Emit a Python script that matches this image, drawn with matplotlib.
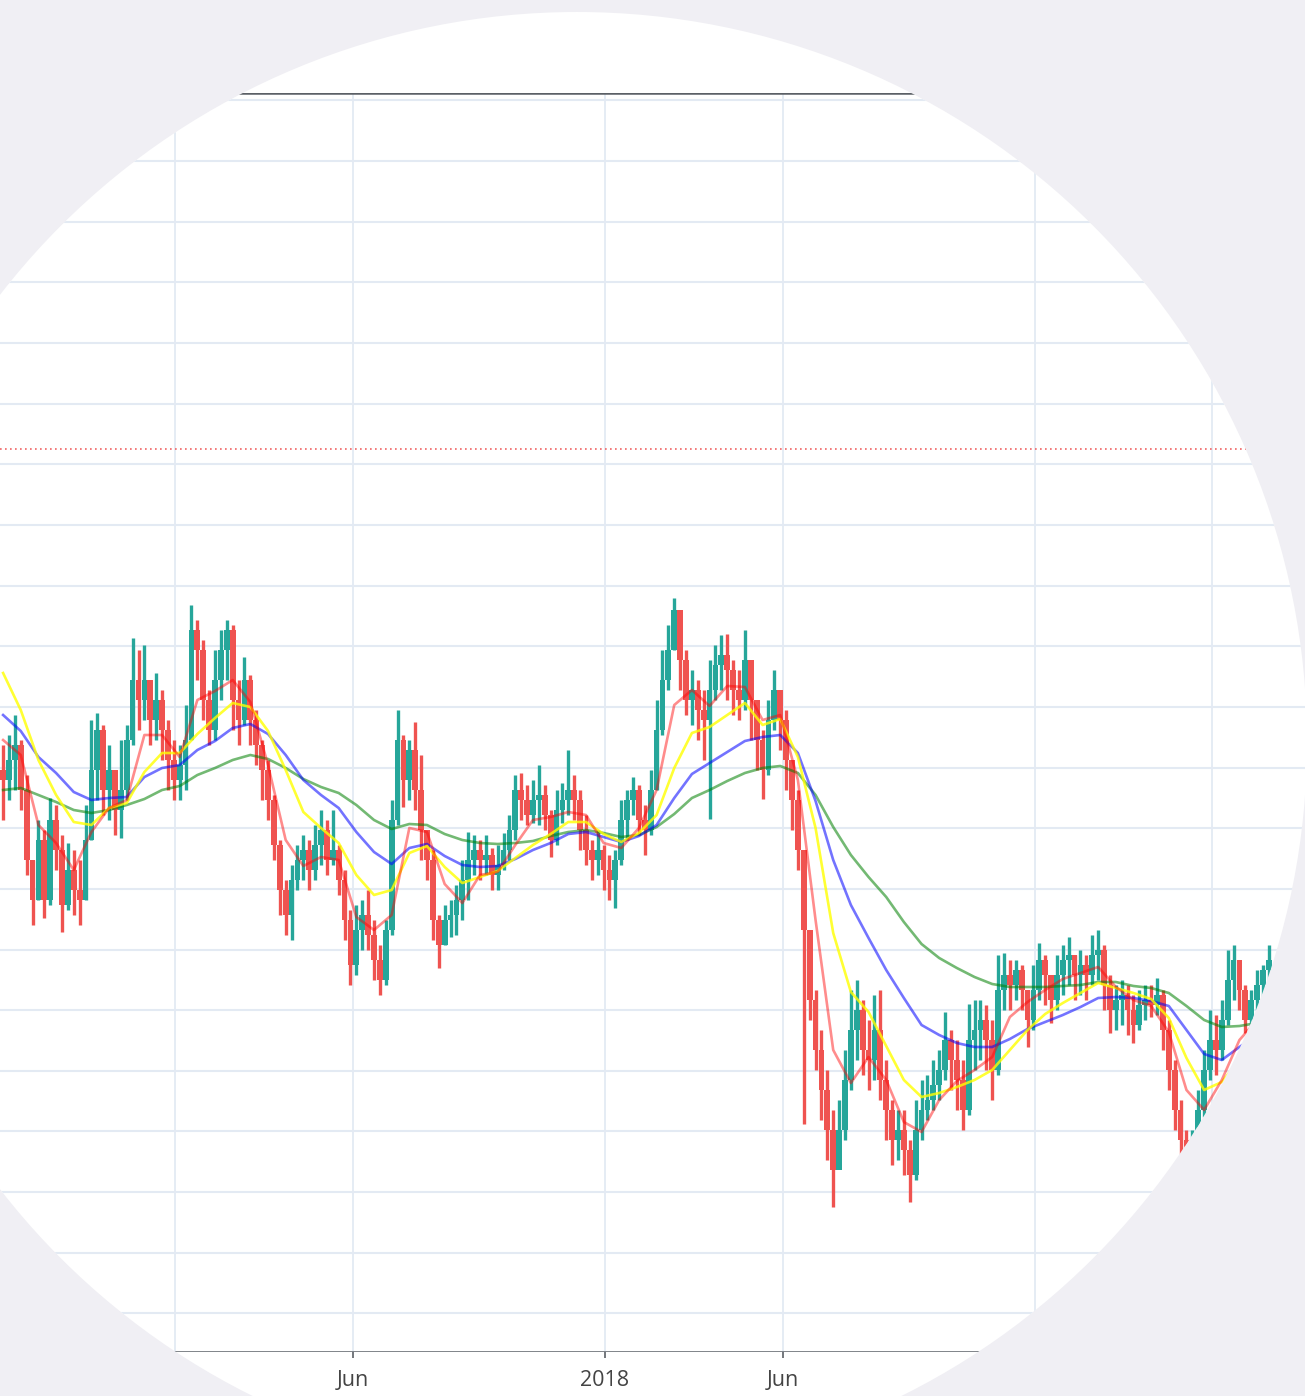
import numpy as np
import pandas as pd
import matplotlib
matplotlib.use('Agg')
import matplotlib.pyplot as plt
from matplotlib.patches import Circle

plt.rcParams['font.family'] = ['Open Sans', 'DejaVu Sans']

# --- DATA (5-day candles, price units are arbitrary: the axis has no labels) ---
first_open = 6.30

close = [6.20, 6.40, 6.55, 6.10, 5.40, 5.00, 5.60, 5.00, 5.80, 5.50,
         4.95, 5.30, 5.10, 5.00, 5.60, 6.30, 6.70, 6.10, 6.30, 5.90,
         6.10, 6.60, 7.20, 7.00, 7.20, 6.80, 7.00, 6.70, 6.40, 6.20,
         6.35, 6.60, 7.70, 7.50, 7.00, 6.70, 7.20, 7.50, 7.70, 7.00,
         6.80, 7.20, 6.80, 6.55, 6.30, 6.00, 5.55, 5.10, 4.85, 5.20,
         5.40, 5.50, 5.30, 5.55, 5.70, 5.40, 5.50, 5.20, 4.80, 4.35,
         4.70, 4.85, 4.65, 4.40, 4.20, 4.70, 5.80, 6.60, 6.20, 6.50,
         6.10, 5.70, 5.40, 4.80, 4.55, 4.80, 4.85, 5.00, 5.20, 5.40,
         5.50, 5.40, 5.45, 5.25, 5.35, 5.50, 5.70, 6.10, 6.00, 5.85,
         6.00, 6.05, 5.85, 5.60, 5.90, 6.00, 6.10, 6.00, 5.70, 5.50,
         5.40, 5.50, 5.30, 5.20, 5.40, 5.80, 6.00, 6.10, 5.80, 5.70,
         6.10, 6.70, 7.20, 7.50, 7.90, 7.40, 7.00, 7.10, 6.90, 6.80,
         7.10, 7.35, 7.45, 7.30, 7.10, 7.00, 7.40, 7.00, 6.60, 6.30,
         6.80, 7.10, 6.80, 6.40, 6.00, 5.50, 4.70, 4.00, 3.50, 3.10,
         2.70, 2.30, 2.70, 3.20, 3.70, 3.90, 3.50, 3.40, 3.70, 3.20,
         2.90, 2.60, 2.70, 2.50, 2.25, 2.70, 2.90, 3.00, 3.15, 3.30,
         3.60, 3.40, 3.20, 2.90, 3.60, 3.70, 3.80, 3.60, 3.30, 4.10,
         4.25, 4.15, 4.30, 4.10, 3.80, 4.10, 4.40, 4.25, 4.00, 4.25,
         4.40, 4.45, 4.25, 4.35, 4.25, 4.45, 4.50, 4.15, 3.90, 4.00,
         4.05, 3.90, 3.75, 3.95, 4.00, 3.95, 4.05, 3.70, 3.30, 2.90,
         2.60, 2.30, 2.50, 2.90, 3.30, 3.60, 3.50, 3.80, 4.20, 4.40,
         4.10, 3.80, 4.00, 4.15, 4.30, 4.40]

high = [6.55, 6.65, 6.85, 6.60, 6.25, 5.40, 5.80, 5.70, 6.02, 5.95,
        5.65, 5.57, 5.50, 5.40, 5.95, 6.80, 6.87, 6.75, 6.55, 6.30,
        6.60, 6.75, 7.62, 7.50, 7.55, 7.20, 7.27, 7.10, 6.80, 6.60,
        6.55, 6.95, 7.95, 7.80, 7.60, 7.10, 7.50, 7.70, 7.80, 7.75,
        7.20, 7.43, 7.25, 6.90, 6.60, 6.40, 6.05, 5.60, 5.20, 5.35,
        5.55, 5.65, 5.60, 5.75, 5.90, 5.80, 5.90, 5.55, 5.30, 4.90,
        4.95, 5.00, 5.10, 4.80, 4.55, 4.80, 6.00, 6.90, 6.65, 6.60,
        6.78, 6.45, 5.70, 5.50, 4.85, 4.95, 5.00, 5.15, 5.40, 5.68,
        5.65, 5.60, 5.65, 5.52, 5.55, 5.67, 5.85, 6.25, 6.27, 6.15,
        6.20, 6.35, 6.15, 5.90, 6.10, 6.17, 6.50, 6.25, 6.10, 5.85,
        5.60, 5.70, 5.55, 5.45, 5.50, 6.00, 6.10, 6.23, 6.15, 5.95,
        6.30, 7.00, 7.50, 7.75, 8.02, 7.90, 7.50, 7.30, 7.20, 7.10,
        7.40, 7.55, 7.65, 7.66, 7.40, 7.30, 7.70, 7.40, 7.00, 6.70,
        7.00, 7.30, 7.10, 6.90, 6.40, 6.10, 5.50, 4.70, 4.10, 3.70,
        3.30, 2.90, 3.00, 3.50, 4.10, 4.20, 4.00, 3.80, 4.05, 4.10,
        3.40, 3.00, 2.90, 2.90, 2.60, 3.00, 3.20, 3.25, 3.40, 3.50,
        3.88, 3.70, 3.60, 3.40, 3.96, 4.00, 4.00, 3.95, 3.80, 4.45,
        4.47, 4.40, 4.40, 4.35, 4.10, 4.35, 4.57, 4.45, 4.25, 4.45,
        4.55, 4.63, 4.45, 4.50, 4.45, 4.65, 4.70, 4.55, 4.25, 4.15,
        4.20, 4.15, 4.05, 4.10, 4.15, 4.15, 4.22, 4.10, 3.80, 3.40,
        3.00, 2.70, 2.70, 3.10, 3.50, 3.90, 3.85, 4.00, 4.50, 4.55,
        4.40, 4.15, 4.10, 4.30, 4.35, 4.55]

low = [5.80, 6.00, 6.10, 5.90, 5.25, 4.75, 5.00, 4.82, 4.95, 5.30,
       4.68, 4.90, 4.85, 4.75, 5.00, 5.60, 6.00, 5.85, 5.80, 5.65,
       5.62, 6.00, 6.55, 6.70, 6.80, 6.55, 6.60, 6.40, 6.10, 6.00,
       6.00, 6.10, 6.60, 7.20, 6.80, 6.55, 6.60, 7.00, 7.20, 6.70,
       6.55, 6.75, 6.55, 6.35, 6.00, 5.80, 5.40, 4.85, 4.65, 4.60,
       5.10, 5.20, 5.10, 5.20, 5.35, 5.25, 5.35, 5.05, 4.60, 4.15,
       4.25, 4.50, 4.50, 4.20, 4.05, 4.15, 4.65, 5.75, 5.93, 6.00,
       5.90, 5.40, 5.20, 4.60, 4.32, 4.55, 4.63, 4.65, 4.80, 5.00,
       5.25, 5.20, 5.25, 5.10, 5.10, 5.30, 5.40, 5.60, 5.80, 5.75,
       5.77, 5.75, 5.70, 5.43, 5.55, 5.77, 5.85, 5.80, 5.50, 5.35,
       5.20, 5.25, 5.10, 5.00, 4.92, 5.35, 5.60, 5.85, 5.65, 5.45,
       5.65, 6.10, 6.65, 7.10, 7.50, 7.10, 6.85, 6.75, 6.60, 6.40,
       5.81, 7.00, 7.10, 7.00, 6.85, 6.80, 6.90, 6.60, 6.30, 6.01,
       6.25, 6.70, 6.50, 6.10, 5.70, 5.30, 2.76, 3.80, 3.30, 2.80,
       2.40, 1.93, 2.40, 2.60, 3.10, 3.40, 3.25, 3.10, 3.20, 3.00,
       2.60, 2.35, 2.40, 2.25, 1.98, 2.20, 2.60, 2.80, 2.90, 3.00,
       3.20, 3.10, 2.90, 2.70, 2.85, 3.30, 3.40, 3.30, 3.00, 3.25,
       3.90, 3.90, 4.00, 3.90, 3.53, 3.70, 4.00, 3.95, 3.77, 3.90,
       4.05, 4.15, 4.00, 4.05, 4.00, 4.15, 4.20, 3.90, 3.67, 3.70,
       3.75, 3.65, 3.57, 3.70, 3.80, 3.83, 3.85, 3.50, 3.10, 2.70,
       2.40, 2.10, 2.15, 2.40, 2.83, 3.20, 3.25, 3.40, 3.75, 4.00,
       3.90, 3.67, 3.70, 3.90, 4.00, 4.10]

# moving averages, read every third candle
ma_red = [6.60, 6.45, 5.75, 5.57, 5.30, 5.68, 5.92, 6.00, 6.65, 6.65,
          6.43, 7.00, 7.09, 7.20, 6.98, 6.35, 5.60, 5.34, 5.43, 5.40,
          4.83, 4.70, 4.85, 5.72, 5.68, 5.16, 4.97, 5.25, 5.28, 5.55,
          5.80, 5.83, 5.88, 5.85, 5.57, 5.52, 5.72, 6.10, 6.95, 7.10,
          6.94, 7.14, 7.13, 6.80, 6.85, 6.20, 4.80, 3.50, 3.17, 3.43,
          3.20, 2.78, 2.68, 3.00, 3.19, 3.30, 3.43, 3.83, 3.98, 4.10,
          4.21, 4.27, 4.33, 4.13, 4.00, 3.94, 3.68, 3.10, 2.90, 3.20,
          3.60, 3.80]
ma_yellow = [7.27, 6.90, 6.40, 6.05, 5.78, 5.75, 5.92, 5.97, 6.28, 6.47,
             6.47, 6.66, 6.82, 6.97, 6.93, 6.69, 6.30, 5.88, 5.72, 5.57,
             5.25, 5.05, 5.10, 5.47, 5.54, 5.33, 5.17, 5.23, 5.29, 5.42,
             5.55, 5.66, 5.78, 5.78, 5.66, 5.58, 5.67, 5.85, 6.32, 6.67,
             6.73, 6.85, 6.97, 6.75, 6.81, 6.43, 5.72, 4.67, 4.08, 3.88,
             3.54, 3.20, 3.03, 3.07, 3.13, 3.20, 3.30, 3.50, 3.70, 3.86,
             3.97, 4.07, 4.17, 4.12, 4.07, 4.01, 3.82, 3.42, 3.10, 3.18,
             3.40, 3.60]
ma_blue = [6.85, 6.69, 6.43, 6.27, 6.08, 6.00, 6.02, 6.03, 6.23, 6.32,
           6.35, 6.50, 6.59, 6.72, 6.76, 6.66, 6.45, 6.20, 6.05, 5.92,
           5.68, 5.48, 5.36, 5.52, 5.56, 5.44, 5.35, 5.33, 5.34, 5.41,
           5.50, 5.57, 5.66, 5.68, 5.63, 5.58, 5.64, 5.75, 6.02, 6.26,
           6.37, 6.48, 6.59, 6.63, 6.65, 6.47, 5.99, 5.40, 4.95, 4.62,
           4.30, 4.02, 3.75, 3.65, 3.57, 3.53, 3.53, 3.61, 3.71, 3.78,
           3.85, 3.93, 4.02, 4.03, 4.02, 3.99, 3.94, 3.70, 3.46, 3.40,
           3.53, 3.65]
ma_green = [6.10, 6.12, 6.05, 5.98, 5.90, 5.87, 5.90, 5.95, 6.01, 6.10,
            6.14, 6.25, 6.32, 6.40, 6.45, 6.41, 6.32, 6.21, 6.13, 6.07,
            5.95, 5.80, 5.71, 5.76, 5.75, 5.66, 5.60, 5.57, 5.56, 5.57,
            5.59, 5.64, 5.68, 5.70, 5.67, 5.63, 5.65, 5.73, 5.86, 6.02,
            6.10, 6.19, 6.27, 6.32, 6.34, 6.27, 6.05, 5.73, 5.45, 5.23,
            5.03, 4.78, 4.56, 4.42, 4.32, 4.23, 4.16, 4.13, 4.13, 4.13,
            4.14, 4.15, 4.18, 4.18, 4.14, 4.12, 4.07, 3.94, 3.80, 3.73,
            3.74, 3.77]

level = 9.51  # dotted reference line

candle_dates = pd.date_range('2016-08-08', periods=len(close), freq='5D')
ma_dates = candle_dates[::3]

tick_dates = pd.to_datetime(['2017-06-01', '2018-01-01', '2018-06-01'])
tick_labels = ['Jun', '2018', 'Jun']
vgrid_dates = pd.to_datetime(['2017-01-01', '2017-06-01', '2018-01-01',
                              '2018-06-01', '2019-01-01', '2019-06-01'])
hgrid = 12.996 - 0.6065 * np.arange(21)

# --- FIGURE ---
UP, DOWN = '#26a69a', '#ef5350'
GRID = '#e3eaf3'
AXIS = '#5b6066'

fig = plt.figure(figsize=(13.05, 13.96), dpi=100)
fig.patch.set_facecolor('#f0eff4')

disc = Circle((5.77, 6.54), 7.30, transform=fig.dpi_scale_trans,
              facecolor='white', edgecolor='none', zorder=-1)
fig.add_artist(disc)

ax = fig.add_axes([0, 44 / 1396, 1, 1259 / 1396])
ax.patch.set_visible(False)

for p in hgrid:
    ax.axhline(p, color=GRID, lw=1.5, zorder=0.5)
for d in vgrid_dates:
    ax.axvline(d, color=GRID, lw=1.3, zorder=0.5)

ax.axhline(level, color='#f06464', lw=1.2, ls=(0, (1, 2)), zorder=1)

c = np.array(close)
o = np.r_[first_open, c[:-1]]
colors = np.where(c >= o, UP, DOWN)
ax.vlines(candle_dates, low, high, colors=colors, lw=2.4, zorder=2)
ax.bar(candle_dates, c - o, bottom=o, width=4.9, color=colors, lw=0, zorder=2.1)

ax.plot(ma_dates, ma_green, color=(0.0, 0.5, 0.0, 0.55), lw=1.9, zorder=3)
ax.plot(ma_dates, ma_blue, color=(0.0, 0.0, 1.0, 0.55), lw=1.9, zorder=3.1)
ax.plot(ma_dates, ma_yellow, color=(1.0, 1.0, 0.0, 0.8), lw=1.9, zorder=3.2)
ax.plot(ma_dates, ma_red, color=(1.0, 0.0, 0.0, 0.45), lw=1.9, zorder=3.3)

ax.set_xlim(pd.Timestamp('2016-08-05 09:00'), pd.Timestamp('2019-08-18 16:00'))
ax.set_ylim(0.48, 13.07)

ax.set_yticks([])
ax.set_xticks(tick_dates)
ax.set_xticklabels(tick_labels)
ax.tick_params(axis='x', length=4.5, width=1.2, color=AXIS, labelsize=15.5,
               labelcolor='#444444', pad=8.5)

for side in ['left', 'right']:
    ax.spines[side].set_visible(False)
for side in ['top', 'bottom']:
    ax.spines[side].set_color(AXIS)
    ax.spines[side].set_linewidth(1.8)

for art in ax.get_children():
    art.set_clip_path(disc)

fig.savefig('out.png', dpi=100, facecolor=fig.get_facecolor())
